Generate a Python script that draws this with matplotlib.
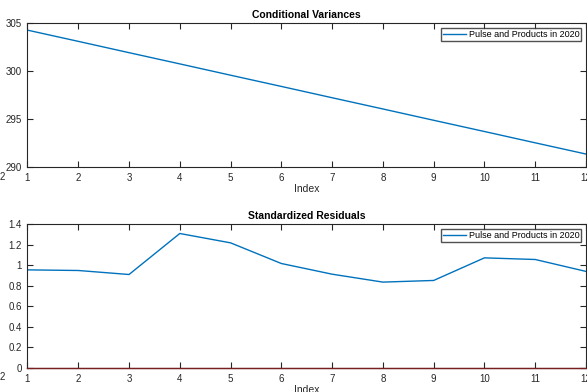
from matplotlib import pyplot as plt
from matplotlib.ticker import FormatStrFormatter
import numpy as np

plt.rcParams['font.family'] = ['Liberation Sans', 'DejaVu Sans']

index = [1, 2, 3, 4, 5, 6, 7, 8, 9, 10, 11, 12]
cond_var = [304.27, 303.10, 301.92, 300.75, 299.57, 298.40,
            297.22, 296.05, 294.87, 293.70, 292.52, 291.35]
std_resid = [0.955, 0.949, 0.91, 1.309, 1.218, 1.017,
             0.913, 0.836, 0.852, 1.072, 1.056, 0.94]
zero_line = [0] * 12
series_name = "Pulse and Products in 2020"

blue = '#0072BD'

fig = plt.figure(figsize=(5.87, 3.92), dpi=100)
ax1 = fig.add_axes([0.0468, 0.574, 0.9515, 0.367])
ax2 = fig.add_axes([0.0468, 0.0612, 0.9515, 0.367])


def style(ax):
    ax.set_xlim(1, 12)
    ax.set_xticks(index)
    ax.tick_params(direction='in', length=4, width=0.8, labelsize=7,
                   top=True, right=True, colors='#262626', pad=4)
    ax.tick_params(axis='x', pad=4)
    for s in ax.spines.values():
        s.set_linewidth(0.8)
        s.set_color('#262626')
    ax.set_xlabel("Index", fontsize=7.5, color='#262626', labelpad=1)
    ax.yaxis.set_major_formatter(FormatStrFormatter('%g'))


ax1.plot(index, cond_var, color=blue, lw=1, label=series_name)
ax1.set_ylim(290, 305)
ax1.set_yticks([290, 295, 300, 305])
ax1.set_title("Conditional Variances", fontsize=7.5, fontweight='bold', pad=4)
style(ax1)
ax1.legend(loc='upper right', fontsize=6.5, frameon=True, fancybox=False,
           edgecolor='#262626', borderpad=0.25, handlelength=2.5,
           handletextpad=0.3, borderaxespad=0.5)

ax2.plot(index, std_resid, color=blue, lw=1, label=series_name)
ax2.plot(index, zero_line, color='#7a1f1f', lw=1, ls='-', zorder=5, clip_on=False)
ax2.set_ylim(0, 1.4)
ax2.set_yticks(np.arange(0, 1.41, 0.2))
ax2.set_title("Standardized Residuals", fontsize=7.5, fontweight='bold', pad=4)
style(ax2)
ax2.legend([ax2.lines[0]], [series_name], loc='upper right', fontsize=6.5,
           frameon=True, fancybox=False, edgecolor='#262626', borderpad=0.25,
           handlelength=2.5, handletextpad=0.3, borderaxespad=0.5)

# stray clipped labels at the left edge
fig.text(0.0, 1 - 177 / 392, "2", fontsize=7, color='#262626', va='center')
fig.text(0.0, 1 - 377 / 392, "2", fontsize=7, color='#262626', va='center')

fig.savefig('out.png', dpi=100)
